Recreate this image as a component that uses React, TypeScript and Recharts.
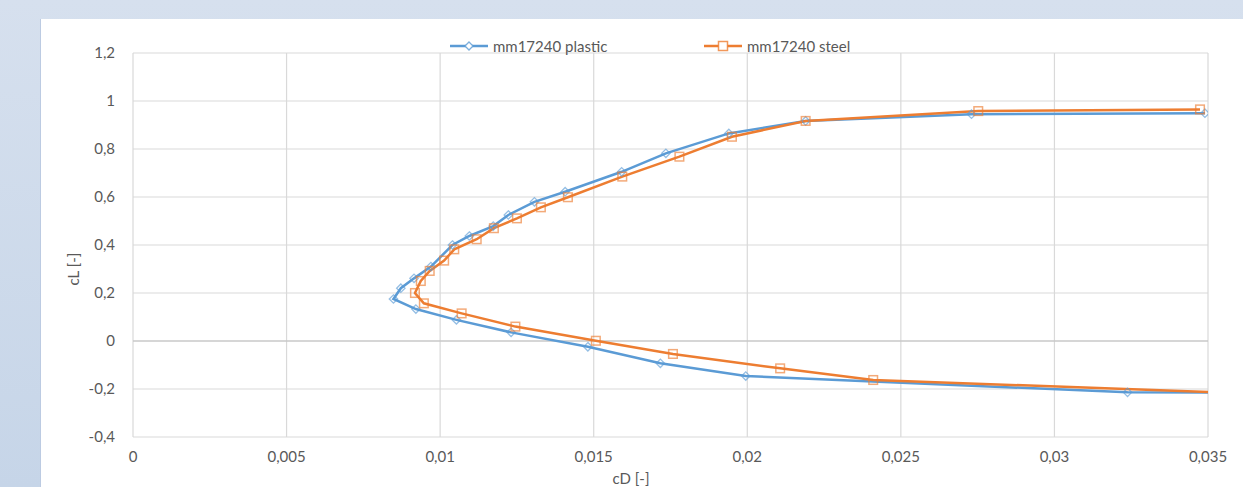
import React from 'react';
import { LineChart, Line, XAxis, YAxis, CartesianGrid, ReferenceLine } from 'recharts';

// plastic (blue diamonds) — ordered along the polar, lower branch first
const plasticCd = [0.035, 0.03238, 0.01995, 0.01717, 0.01481, 0.01231, 0.01053, 0.00921, 0.00848, 0.00872, 0.00915, 0.0097, 0.0104, 0.01095, 0.01173, 0.01222, 0.01307, 0.01407, 0.01591, 0.01735, 0.0194, 0.0219, 0.0273, 0.0349];
const plasticCl = [-0.215, -0.214, -0.146, -0.093, -0.024, 0.036, 0.088, 0.133, 0.175, 0.22, 0.261, 0.31, 0.4, 0.4375, 0.479, 0.525, 0.58, 0.622, 0.705, 0.782, 0.865, 0.917, 0.945, 0.949];

// steel (orange squares)
const steelCd = [0.035, 0.0241, 0.02107, 0.01758, 0.01507, 0.01245, 0.0107, 0.00947, 0.00918, 0.00937, 0.00966, 0.01013, 0.01046, 0.01119, 0.01175, 0.0125, 0.01328, 0.01416, 0.01593, 0.01779, 0.0195, 0.0219, 0.02752, 0.03474];
const steelCl = [-0.212, -0.1625, -0.114, -0.054, 0.001, 0.06, 0.115, 0.157, 0.2, 0.25, 0.292, 0.335, 0.382, 0.424, 0.47, 0.511, 0.557, 0.599, 0.685, 0.768, 0.851, 0.917, 0.958, 0.965];

const xTicks = [0, 0.005, 0.01, 0.015, 0.02, 0.025, 0.03, 0.035];
const yTicks = [-0.4, -0.2, 0, 0.2, 0.4, 0.6, 0.8, 1, 1.2];

const BLUE = '#5B9BD5';
const ORANGE = '#ED7D31';
const GRID = '#D9D9D9';
const TEXT = '#595959';
const FONT = 'Lato, "Open Sans", sans-serif';

const plastic = plasticCd.map((cd, i) => ({ cd, cl: plasticCl[i] }));
const steel = steelCd.map((cd, i) => ({ cd, cl: steelCl[i] }));

const fmt = (v: number) => String(v).replace('.', ',');

// first point of each series is the line end at the plot edge, drawn without a marker
const DiamondDot = (props: any) => {
  const { cx, cy, index } = props;
  if (index === 0 || cx == null) return <g key={`d-${index}`} />;
  const r = 4.2;
  return (
    <polygon
      key={`d-${index}`}
      points={`${cx},${cy - r} ${cx + r},${cy} ${cx},${cy + r} ${cx - r},${cy}`}
      fill="none"
      stroke={BLUE}
      strokeOpacity={0.65}
      strokeWidth={1.3}
    />
  );
};

const SquareDot = (props: any) => {
  const { cx, cy, index } = props;
  if (index === 0 || cx == null) return <g key={`s-${index}`} />;
  const r = 4.3;
  return (
    <rect
      key={`s-${index}`}
      x={cx - r}
      y={cy - r}
      width={r * 2}
      height={r * 2}
      fill="none"
      stroke={ORANGE}
      strokeOpacity={0.65}
      strokeWidth={1.5}
    />
  );
};

const LegendItem: React.FC<{ color: string; label: string; shape: 'diamond' | 'square'; left: number }> = ({ color, label, shape, left }) => (
  <div style={{ position: 'absolute', left, top: 17, display: 'flex', alignItems: 'center', height: 20 }}>
    <svg width={40} height={14} style={{ marginRight: 4 }}>
      <line x1={1} y1={7} x2={39} y2={7} stroke={color} strokeWidth={2.5} />
      {shape === 'diamond' ? (
        <polygon points="20,3 24,7 20,11 16,7" fill="white" stroke={color} strokeOpacity={0.8} strokeWidth={1.3} />
      ) : (
        <rect x={15.5} y={2.5} width={9} height={9} fill="white" stroke={color} strokeOpacity={0.8} strokeWidth={1.5} />
      )}
    </svg>
    <span style={{ fontFamily: FONT, fontSize: 15, color: TEXT, whiteSpace: 'nowrap' }}>{label}</span>
  </div>
);

const App: React.FC = () => {
  return (
    <div style={{ position: 'fixed', left: 0, top: 0, width: 1243, height: 487, background: 'linear-gradient(180deg, #d6e0ee 0%, #c6d5e8 100%)', overflow: 'hidden' }}>
      <div style={{ position: 'absolute', left: 40, top: 19, width: 1203, height: 468, background: '#ffffff', borderLeft: '1px solid #bccbe2' }}>
        <LineChart width={1202} height={468} margin={{ top: 34, right: 35, bottom: 20, left: 32 }}>
          <CartesianGrid stroke={GRID} strokeWidth={1.2} horizontalValues={yTicks} verticalValues={xTicks} />
          <XAxis
            type="number"
            dataKey="cd"
            domain={[0, 0.035]}
            ticks={xTicks}
            tickFormatter={fmt}
            allowDataOverflow
            axisLine={false}
            tickLine={false}
            tickMargin={8}
            height={30}
            tick={{ fill: TEXT, fontSize: 15, fontFamily: FONT }}
          />
          <YAxis
            type="number"
            dataKey="cl"
            domain={[-0.4, 1.2]}
            ticks={yTicks}
            tickFormatter={fmt}
            allowDataOverflow
            axisLine={false}
            tickLine={false}
            tickMargin={12}
            width={60}
            tick={{ fill: TEXT, fontSize: 15, fontFamily: FONT }}
          />
          <ReferenceLine y={0} stroke="#BFBFBF" strokeWidth={1.2} />
          <Line data={plastic} dataKey="cl" type="linear" stroke={BLUE} strokeWidth={2.5} dot={DiamondDot} activeDot={false} isAnimationActive={false} />
          <Line data={steel} dataKey="cl" type="linear" stroke={ORANGE} strokeWidth={2.5} dot={SquareDot} activeDot={false} isAnimationActive={false} />
        </LineChart>
        <LegendItem color={BLUE} label="mm17240 plastic" shape="diamond" left={408} />
        <LegendItem color={ORANGE} label="mm17240 steel" shape="square" left={662} />
        <div style={{ position: 'absolute', left: 590, top: 450, width: 0, height: 0 }}>
          <span style={{ position: 'absolute', transform: 'translateX(-50%)', fontFamily: FONT, fontSize: 15, color: TEXT, whiteSpace: 'nowrap' }}>cD [-]</span>
        </div>
        <div style={{ position: 'absolute', left: 32, top: 250, width: 0, height: 0 }}>
          <span style={{ position: 'absolute', transform: 'translate(-50%, -50%) rotate(-90deg)', fontFamily: FONT, fontSize: 15, color: TEXT, whiteSpace: 'nowrap' }}>cL [-]</span>
        </div>
      </div>
    </div>
  );
};

export default App;
